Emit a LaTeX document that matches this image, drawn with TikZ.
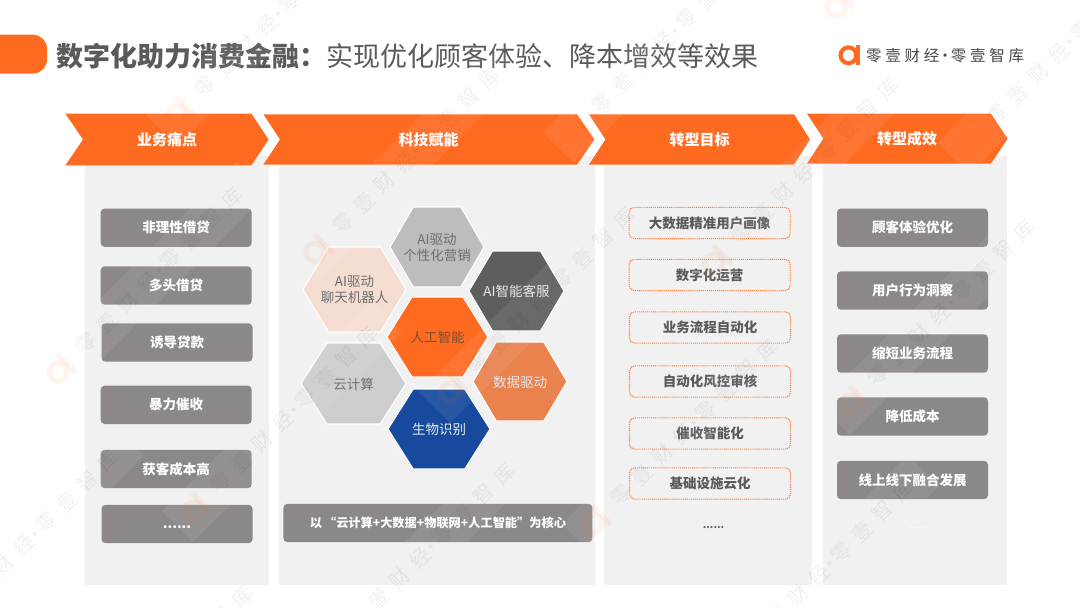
\documentclass[tikz,border=0pt]{standalone}
\usepackage{fontspec}
\setmainfont{Noto Sans CJK SC}
\newfontfamily\wmfont[LetterSpace=45]{Noto Sans CJK SC}
\newfontfamily\logofont[LetterSpace=24]{Noto Sans CJK SC}
\definecolor{org}{HTML}{FF6A21}
\definecolor{panel}{HTML}{F1F1F1}
\definecolor{gbox}{HTML}{8C8888}
\definecolor{ttl}{HTML}{5A5A5A}
\definecolor{hxa}{HTML}{BDBDBD}
\definecolor{hxb}{HTML}{F6DDD1}
\definecolor{hxc}{HTML}{5E5E5E}
\definecolor{hxd}{HTML}{CDCDCD}
\definecolor{hxe}{HTML}{E9824D}
\definecolor{hxf}{HTML}{174A9C}
\definecolor{hxtd}{HTML}{6E6E6E}
\definecolor{hxto}{HTML}{7C4E36}
\definecolor{hxtl}{HTML}{E8E8E8}
\tikzset{
  chev/.style={fill=org,draw=none},
  chevtext/.style={text=white,font=\bfseries\fontsize{15}{15}\selectfont},
  panelbox/.style={fill=panel,draw=none},
  greybox/.style={fill=gbox,draw=none,rounded corners=4pt,minimum height=38.4pt,minimum width=151pt,inner sep=0pt,text=white,font=\bfseries\fontsize{13.5}{14}\selectfont},
  dotbox/.style={draw=org!85!white,line width=1.15pt,dash pattern=on 1.15pt off 0.9pt,rounded corners=5pt,minimum height=31.3pt,minimum width=161pt,inner sep=0pt,text=ttl,font=\bfseries\fontsize{13.5}{14}\selectfont},
  hextext/.style={font=\fontsize{13.5}{16}\selectfont,align=center},
  hexfill/.style={draw=white,line width=1.1pt},
  wmband/.style={fill=white,opacity=0.07,draw=none},
  wmlogo/.style={draw=org,opacity=0.07,line width=5.5pt},
  wmtext/.style={anchor=west,text=black,opacity=0.055,transform shape,inner sep=0pt,font=\wmfont\fontsize{20}{20}\selectfont},
}
% hexagon: name, left, right, top, bottom, fill, text colour, text
\newcommand{\hexa}[8]{%
  \pgfmathsetmacro{\hxs}{(#3-#2)*0.2475}%
  \pgfmathsetmacro{\hxm}{(#4+#5)/2}%
  \path[hexfill,fill=#6] (#2,\hxm) -- ({#2+\hxs},#4) -- ({#3-\hxs},#4) -- (#3,\hxm) -- ({#3-\hxs},#5) -- ({#2+\hxs},#5) -- cycle;
  \node[hextext,text=#7] (#1) at ({(#2+#3)/2},{\hxm+0.5}) {#8};}
% chevron: name, left, notch, shoulder, tip, text, top, bottom
\newcommand{\chevr}[8]{%
  \path[chev] (#2,#7) -- (#4,#7) -- (#5,{(#7+#8)/2}) -- (#4,#8) -- (#2,#8) -- (#3,{(#7+#8)/2}) -- cycle;
  \node[chevtext] (#1) at ({(#3+#4)/2},{(#7+#8)/2}) {#6};}
\begin{document}
\begin{tikzpicture}[x=1pt,y=-1pt]
\useasboundingbox (0,0) rectangle (1080,608);
\fill[white] (0,0) rectangle (1080,608);
% panels
\path[panelbox] (85,155.5) rectangle (269,584.7);
\path[panelbox] (279.3,155.5) rectangle (595.4,584.7);
\path[panelbox] (604,155.5) rectangle (811.5,584.7);
\path[panelbox] (823,155.5) rectangle (1007.3,584.7);
% title
\begin{scope}
\clip (0,0) rectangle (1080,608);
\path[fill=org,rounded corners=14pt] (-30,34.7) rectangle (47,73.5);
\end{scope}
\node[anchor=west,inner sep=0pt,text=ttl,font=\fontsize{27}{27}\selectfont] (title) at (56.5,56) {\textbf{数字化助力消费金融：}实现优化顾客体验、降本增效等效果};
% logo
\draw[org,line width=4.2pt] (848.5,55.3) circle (7.9);
\draw[org,line width=4.2pt] (858,45) -- (858,65.3);
\node[anchor=west,inner sep=0pt,text=black!72,font=\logofont\fontsize{15.5}{16}\selectfont] (logo) at (866,55.5) {零壹财经\kern-2pt·\kern-2pt零壹智库};
% chevrons
\chevr{c1}{65.4}{83}{251.4}{268.6}{业务痛点}{113.7}{165.3}
\chevr{c2}{263.4}{280}{577}{594.4}{科技赋能}{114.3}{164.6}
\chevr{c3}{589}{605.4}{794}{810}{转型目标}{114.3}{164.6}
\chevr{c4}{807}{823.4}{991}{1007.6}{转型成效}{113.7}{163.5}
% left boxes
\node[greybox] (l1) at (176.2,227.7) {非理性借贷};
\node[greybox] (l2) at (176.2,285.5) {多头借贷};
\node[greybox] (l3) at (177,342.5) {诱导贷款};
\node[greybox] (l4) at (176.2,404.8) {暴力催收};
\node[greybox] (l5) at (176.2,469) {获客成本高};
\node[greybox] (l6) at (177,524) {\smash{\raisebox{-4.5pt}{......}}};
% hexagons
\hexa{h1}{390}{484}{207}{287}{hxa}{hxtd}{AI驱动\\个性化营销}
\hexa{h2}{303}{406}{247}{332}{hxb}{hxtd}{AI驱动\\聊天机器人}
\hexa{h3}{469}{564}{251}{331}{hxc}{hxtl}{AI智能客服}
\hexa{h4}{387}{488}{297}{377}{org}{hxto}{人工智能}
\hexa{h5}{301}{406}{343}{424}{hxd}{hxtd}{云计算}
\hexa{h6}{473}{567}{342}{421}{hxe}{hxtl}{数据驱动}
\hexa{h7}{388}{490}{389}{469}{hxf}{hxtl}{生物识别}
\node[greybox,minimum width=309pt,font=\bfseries\fontsize{12.2}{13}\selectfont] (core) at (437.9,523) {以\,“云计算+大数据+物联网+人工智能”为核心};
% dotted
\node[dotbox] (d1) at (709.6,223) {大数据精准用户画像};
\node[dotbox] (d2) at (709.6,275) {数字化运营};
\node[dotbox] (d3) at (710,327.5) {业务流程自动化};
\node[dotbox] (d4) at (710,381.5) {自动化风控审核};
\node[dotbox] (d5) at (710,433.5) {催收智能化};
\node[dotbox] (d6) at (710,483.5) {基础设施云化};
\node[text=ttl,font=\bfseries\fontsize{10}{10}\selectfont,inner sep=0pt] (dd) at (713.5,528) {......};
% right
\node[greybox] (r1) at (912.5,227.7) {顾客体验优化};
\node[greybox] (r2) at (912.5,290.5) {用户行为洞察};
\node[greybox] (r3) at (912.5,353.5) {缩短业务流程};
\node[greybox] (r4) at (912.5,416.5) {降低成本};
\node[greybox] (r5) at (912.5,480) {线上线下融合发展};
\node[text=white,font=\fontsize{10}{10}\selectfont,inner sep=0pt] (rd) at (918,528) {......};
% watermarks
\begin{scope}
\clip (0,0) rectangle (1080,608);
\foreach \i/\wx/\wy in {1/177/115,2/315/252,3/574/132,4/714/263,5/969/143,6/450/392,7/58/372,8/193/511,9/-66/635,10/330/648,11/593/524,12/850/404,13/729/665,14/68/771,15/836/7}{
  \begin{scope}[shift={(\wx,\wy)},rotate=45]
    \path[wmband] (-22,-22) rectangle (275,22);
    \draw[wmlogo] (0,0) circle (9);
    \draw[wmlogo] (12,-13) -- (12,13);
    \node[wmtext] (wm\i) at (30,0) {零壹财经\kern-4pt·\kern-4pt零壹智库};
  \end{scope}
}
\end{scope}
\end{tikzpicture}
\end{document}
